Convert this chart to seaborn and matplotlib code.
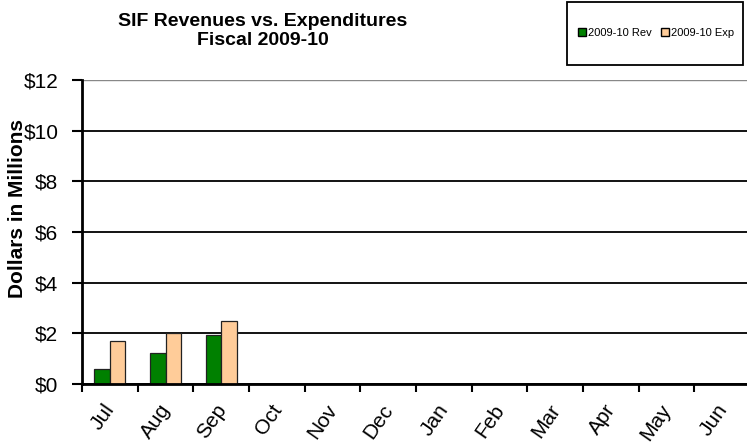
import matplotlib
matplotlib.use("Agg")
import matplotlib.pyplot as plt
import seaborn as sns
import pandas as pd
import numpy as np
from matplotlib.ticker import FuncFormatter, FixedLocator
from matplotlib.patches import Rectangle

months = ["Jul", "Aug", "Sep", "Oct", "Nov", "Dec",
          "Jan", "Feb", "Mar", "Apr", "May", "Jun"]
reported_months = ["Jul", "Aug", "Sep"]
revenues = [0.60, 1.23, 1.92]
expenditures = [1.70, 2.00, 2.47]
series_names = ["2009-10 Rev", "2009-10 Exp"]
series_colors = ["#008000", "#FFCC99"]

df = pd.DataFrame({
    "Month": reported_months * 2,
    "Amount": revenues + expenditures,
    "Series": [series_names[0]] * len(reported_months) + [series_names[1]] * len(reported_months),
})

sns.set_style("white")
plt.rcParams["font.family"] = ["Liberation Sans", "DejaVu Sans"]
plt.rcParams["text.color"] = "black"
plt.rcParams["axes.labelcolor"] = "black"
plt.rcParams["xtick.color"] = "black"
plt.rcParams["ytick.color"] = "black"

fig = plt.figure(figsize=(7.47, 4.47), dpi=100)
W, H = 747, 447
ax = fig.add_axes([82 / W, 1 - 384 / H, (750 - 82) / W, (384 - 80) / H])

sns.barplot(data=df, x="Month", y="Amount", hue="Series", order=months,
            hue_order=series_names, palette=series_colors, width=0.56,
            saturation=1, edgecolor="#222222", linewidth=0.9, ax=ax,
            legend=True)

ax.set_xlim(-0.5, 11.5)
ax.set_ylim(0, 12)
ax.set_yticks(np.arange(0, 13, 2))
ax.yaxis.set_major_formatter(FuncFormatter(lambda v, p: f"${v:.0f}"))
ax.grid(axis="y", color="black", linewidth=1.3)
ax.set_axisbelow(True)
# top gridline is lighter, like a plot-area border
ax.get_ygridlines()[-1].set_color("#888888")
ax.get_ygridlines()[-1].set_linewidth(1.0)

for s in ["top", "right"]:
    ax.spines[s].set_visible(False)
for s in ["left", "bottom"]:
    ax.spines[s].set_color("black")
    ax.spines[s].set_linewidth(2)

# rotated month labels sit just left of each category centre;
# visible ticks mark the category boundaries
label_pos = np.arange(len(months)) - 0.12
ax.set_xticks(label_pos)
ax.set_xticklabels(months, rotation=55, ha="right", rotation_mode="anchor",
                   fontsize=15)
ax.xaxis.set_minor_locator(FixedLocator(np.arange(-0.5, 11.6, 1)))
ax.tick_params(axis="x", which="major", length=0, pad=12)
ax.tick_params(axis="x", which="minor", length=6, width=1.5, color="black",
               direction="out", bottom=True)
ax.tick_params(axis="y", which="major", length=7, width=1.5, color="black",
               direction="out", left=True, labelsize=15, pad=10)

ax.set_xlabel("")
ax.set_ylabel("")
fig.text(18 / W, 1 - 208 / H, "Dollars in Millions", rotation=90,
         ha="center", va="center", fontsize=15, fontweight="bold")

fig.text(263 / W, 1 - 31 / H, "SIF Revenues vs. Expenditures\nFiscal 2009-10",
         ha="center", va="center", fontsize=14, fontweight="bold",
         linespacing=1.1)

# legend box
handles, labels = ax.get_legend_handles_labels()
ax.get_legend().remove()
fig.patches.append(Rectangle((567 / W, 1 - 65 / H), (743 - 567) / W, 63 / H,
                             transform=fig.transFigure, facecolor="white",
                             edgecolor="black", linewidth=1.3, zorder=1))
leg = fig.legend(handles, labels, loc="center",
                 bbox_to_anchor=(656 / W, 1 - 33 / H), ncol=2, fontsize=8,
                 frameon=False, handlelength=0.75, handleheight=0.75,
                 handletextpad=0.2, columnspacing=0.8, borderpad=0,
                 borderaxespad=0)
leg.set_zorder(10)
for h in leg.legend_handles:
    h.set_edgecolor("black")
    h.set_linewidth(1.0)

fig.savefig("out.png", dpi=100, facecolor="white")
